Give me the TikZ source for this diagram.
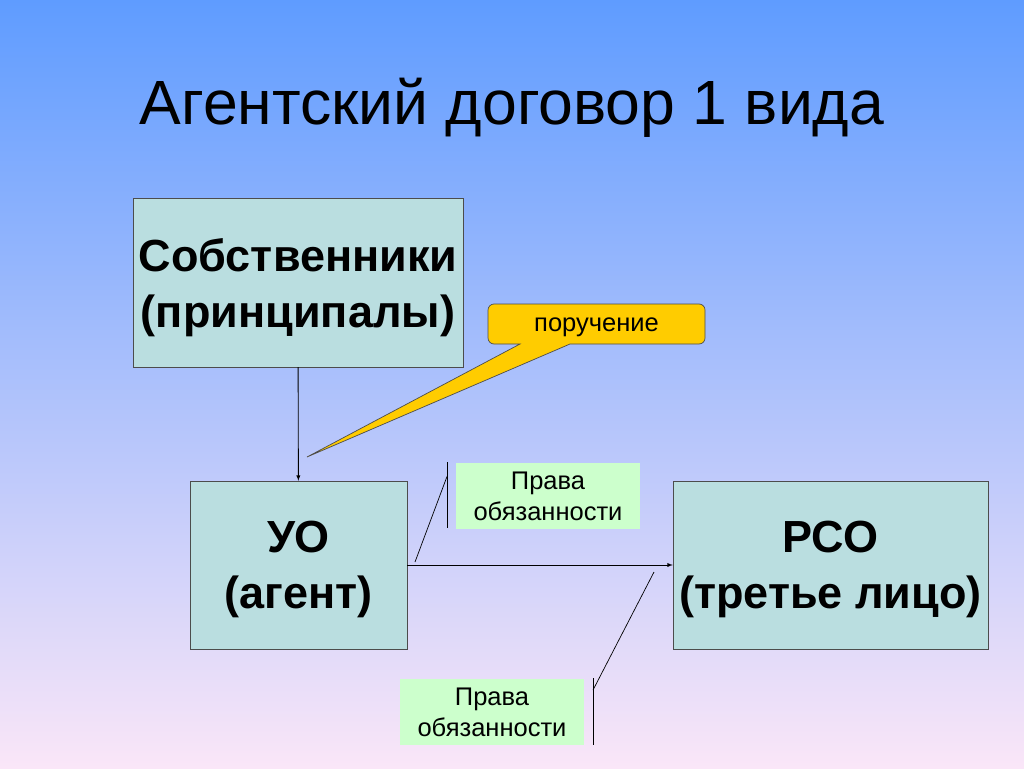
\documentclass[tikz,border=0pt]{standalone}
\usepackage{fontspec}
\setmainfont{Liberation Sans}
\usetikzlibrary{calc}
\definecolor{skytop}{RGB}{95,156,255}
\definecolor{skymid}{RGB}{130,190,252}
\definecolor{skybot}{RGB}{250,230,248}
\definecolor{boxfill}{RGB}{186,222,224}
\definecolor{notefill}{RGB}{204,255,204}
\definecolor{calloutfill}{RGB}{255,204,0}
\tikzset{
  party/.style={draw=black!70, fill=boxfill, align=center, text depth=0pt,
    font=\fontsize{45}{56}\selectfont\bfseries},
  note/.style={fill=notefill, align=center, minimum width=184pt,
    minimum height=66pt, inner sep=0pt, font=\fontsize{25.5}{31}\selectfont},
  link/.style={draw=black, line width=0.9pt, -latex},
  pin/.style={draw=black, line width=0.7pt}
}
\begin{document}
\begin{tikzpicture}[x=1pt,y=-1pt]
\shade[top color=skytop, middle color=skymid, bottom color=skybot]
  (0,0) rectangle (1024,768);
\useasboundingbox (0,0) rectangle (1024,768);

\node[font=\fontsize{62.5}{70}\selectfont] (title) at (512,108) {Агентский договор 1 вида};

% the three parties
\node[party, minimum width=330pt, minimum height=169pt] (owners) at (298,282.5)
  {Собственники\\(принципалы)};
\node[party, minimum width=217pt, minimum height=168pt] (agent) at (298.5,565)
  {УО\\(агент)};
\node[party, minimum width=315pt, minimum height=168pt] (third) at (830.5,565)
  {РСО\\(третье лицо)};

\draw[link] (owners) -- (agent);
\draw[link] (agent.east) -- (third.west);

% callout
\draw[draw=black!70, line width=0.7pt, fill=calloutfill]
  (570,344) [rounded corners=6pt] -- (705,344) -- (705,304) -- (488,304)
  -- (488,344) [sharp corners] -- (520,344) -- (307,457) -- cycle;
\node[font=\fontsize{25.5}{30}\selectfont] (order) at (596.5,327) {поручение};

% rights and duties
\node[note] (duties1) at (548,496) {Права\\обязанности};
\node[note] (duties2) at (492,712) {Права\\обязанности};

\coordinate (bar1a) at (447,462);
\coordinate (bar1b) at (447,528);
\coordinate (tip1) at (415,562);
\coordinate (bar2a) at (593,678);
\coordinate (bar2b) at (593,745);
\coordinate (tip2) at (654,572);

\draw[pin] (bar1a) -- (bar1b);
\draw[pin] ($(bar1a)!0.22!(bar1b)$) -- (tip1);
\draw[pin] (bar2a) -- (bar2b);
\draw[pin] ($(bar2a)!0.18!(bar2b)$) -- (tip2);
\end{tikzpicture}
\end{document}
